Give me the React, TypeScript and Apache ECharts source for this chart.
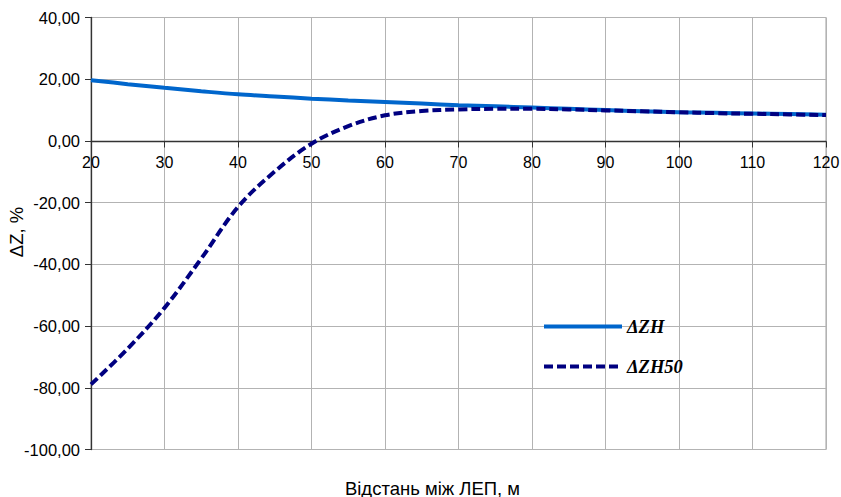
import React, { useEffect, useRef } from "react";
import * as echarts from "echarts";

const distances = [20, 25, 30, 35, 40, 45, 50, 55, 60, 65, 70, 75, 80, 85, 90, 95, 100, 105, 110, 115, 120];
const dZH = [19.7, 18.4, 17.2, 16.1, 15.1, 14.4, 13.7, 13.1, 12.6, 12.1, 11.6, 11.2, 10.8, 10.4, 10.0, 9.6, 9.3, 9.1, 8.9, 8.7, 8.5];
const dZH50 = [-78.9, -67.3, -54.1, -38.1, -21.4, -9.9, -0.9, 4.8, 8.3, 9.7, 10.2, 10.4, 10.4, 10.2, 9.9, 9.6, 9.3, 9.0, 8.8, 8.6, 8.4];
const seriesNames = ["ΔZH", "ΔZH50"];
const yAxisTitle = "ΔZ, %";
const xAxisTitle = "Відстань між ЛЕП, м";

export default function App() {
  const ref = useRef<HTMLDivElement>(null);
  useEffect(() => {
    if (!ref.current) return;
    const chart = echarts.init(ref.current, undefined, { renderer: "svg" });
    const sans = "'Liberation Sans', Arial, sans-serif";
    chart.setOption({
      animation: false,
      backgroundColor: "#ffffff",
      grid: {
        left: 91,
        right: 15,
        top: 17.5,
        bottom: 47.5,
        show: true,
        borderColor: "#a0a0a0",
        borderWidth: 1,
        containLabel: false,
        outerBoundsMode: "none",
      },
      legend: {
        orient: "vertical",
        left: 542,
        top: 317,
        padding: 0,
        itemWidth: 78,
        itemHeight: 14,
        itemGap: 21,
        data: seriesNames,
        itemStyle: { opacity: 0 },
        lineStyle: { width: 4 },
        textStyle: {
          fontFamily: "'Liberation Serif', 'Times New Roman', serif",
          fontStyle: "italic",
          fontWeight: "bold",
          fontSize: 18.5,
          color: "#000",
        },
      },
      graphic: [
        {
          type: "text",
          x: 432.5,
          y: 488,
          style: {
            text: xAxisTitle,
            fontFamily: sans,
            fontSize: 18.5,
            fill: "#000",
            align: "center",
            verticalAlign: "middle",
          },
        },
        {
          type: "text",
          x: 16,
          y: 232,
          rotation: Math.PI / 2,
          style: {
            text: yAxisTitle,
            fontFamily: sans,
            fontSize: 18.5,
            fill: "#000",
            align: "center",
            verticalAlign: "middle",
          },
        },
      ],
      xAxis: {
        type: "value",
        min: 20,
        max: 120,
        interval: 10,
        offset: -308,
        axisLine: { onZero: false, lineStyle: { color: "#333", width: 1.3 } },
        axisTick: { show: true, length: 6, lineStyle: { color: "#333" } },
        axisLabel: { margin: 13, fontFamily: sans, fontSize: 16, color: "#000" },
        splitLine: { show: true, lineStyle: { color: "#b3b3b3", width: 1 } },
      },
      yAxis: {
        type: "value",
        min: -100,
        max: 40,
        interval: 20,
        axisLine: { show: true, lineStyle: { color: "#333", width: 1.3 } },
        axisTick: { show: true, length: 6, lineStyle: { color: "#333" } },
        axisLabel: {
          margin: 11,
          fontFamily: sans,
          fontSize: 16.5,
          color: "#000",
          formatter: (v: number) => v.toFixed(2).replace(".", ","),
        },
        splitLine: { show: true, lineStyle: { color: "#b3b3b3", width: 1 } },
      },
      series: [
        {
          name: seriesNames[0],
          type: "line",
          data: distances.map((d, i) => [d, dZH[i]]),
          smooth: 0.35,
          symbol: "none",
          lineStyle: { color: "#0066cc", width: 4 },
          itemStyle: { color: "#0066cc" },
          z: 2,
        },
        {
          name: seriesNames[1],
          type: "line",
          data: distances.map((d, i) => [d, dZH50[i]]),
          smooth: 0.35,
          symbol: "none",
          lineStyle: { color: "#000080", width: 4, type: [9, 4] },
          itemStyle: { color: "#000080" },
          z: 3,
        },
      ],
    });
    return () => chart.dispose();
  }, []);
  return (
    <div
      ref={ref}
      style={{ position: "fixed", left: 0, top: 0, width: 841, height: 497, background: "#fff" }}
    />
  );
}
